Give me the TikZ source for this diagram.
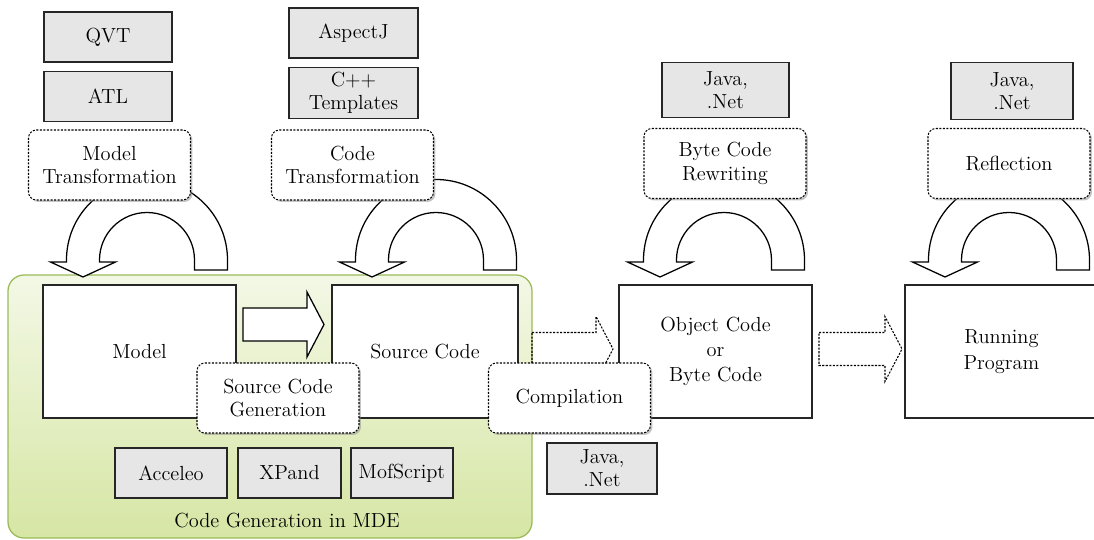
\documentclass[tikz,border=0pt]{standalone}
\usetikzlibrary{positioning,shadows}

\definecolor{toolgray}{HTML}{E6E6E6}
\definecolor{mdeline}{HTML}{9BBB59}
\definecolor{mdetop}{HTML}{F3F8E6}
\definecolor{mdebottom}{HTML}{D6E6A4}

\newdimen\pxu
\pxu=0.025cm

\tikzset{
  artefact/.style={draw=black!85, line width=0.9pt, fill=white, align=center,
    minimum width=193*\pxu, minimum height=133*\pxu},
  tool/.style={draw=black!85, line width=0.9pt, fill=toolgray, align=center,
    inner sep=0pt, minimum width=128*\pxu, minimum height=50*\pxu},
  process/.style={draw=black, line width=0.75pt, dash pattern=on 1.5pt off 1pt,
    fill=white, rounded corners=8*\pxu, align=center,
    minimum width=162*\pxu, minimum height=70*\pxu,
    drop shadow={opacity=0.45, shadow xshift=1.4pt, shadow yshift=-1.4pt}},
  mdebox/.style={draw=mdeline, line width=0.9pt, rounded corners=16*\pxu,
    top color=mdetop, bottom color=mdebottom},
  flow/.style={draw=black, line width=0.9pt, fill=white, line join=miter},
  flowdotted/.style={draw=black, line width=0.75pt, dash pattern=on 1.5pt off 1pt},
}

% block arrow: start x, tip x, centre y
\newcommand{\blockarrow}[4][flow]{%
  \draw[#1] (#2,{#4-16.5}) -- ({#3-17},{#4-16.5}) -- ({#3-17},{#4-32.5})
    -- (#3,#4) -- ({#3-17},{#4+32.5}) -- ({#3-17},{#4+16.5})
    -- (#2,{#4+16.5}) -- cycle;}

% u-turn arrow, argument is the x of its tip
\newcommand{\uturn}[1]{%
  \draw[flow] ({#1+144.5},270) -- ({#1+144.5},260)
    arc[start angle=0, end angle=180, radius=80.5*\pxu] -- ({#1-16.5},262)
    -- ({#1-32.5},262) -- (#1,277) -- ({#1+32.5},262) -- ({#1+16.5},262)
    -- ({#1+16.5},260) arc[start angle=180, end angle=0, radius=47.5*\pxu]
    -- ({#1+111.5},270) -- cycle;}

\begin{document}
\begin{tikzpicture}[x=0.025cm, y=-0.025cm, font=\fontsize{14.5}{16.5}\selectfont]
\useasboundingbox (0,0) rectangle (1094,540);

% code generation area
\node[mdebox, minimum width=524*\pxu, minimum height=263*\pxu] (mde) at (270,406.5) {};
\node (mdelabel) at (287,521) {Code Generation in MDE};

% artefacts
\node[artefact] (model) at (139.5,351.5) {Model};
\node[artefact, minimum width=186*\pxu] (src) at (425,351.5) {Source Code};
\node[artefact, font=\fontsize{14.5}{18}\selectfont] (obj) at (715.5,351.5) {Object Code\\or\\Byte Code};
\node[artefact, font=\fontsize{14.5}{18}\selectfont] (run) at (1001.5,351.5) {Running\\Program};

% arrows between artefacts
\blockarrow{243}{324}{324.5}
\blockarrow[flowdotted]{532}{613}{349}
\blockarrow[flowdotted]{819}{902}{349}

% transformations on the same level
\uturn{83}
\uturn{372}
\uturn{660}
\uturn{945}

% processes
\node[process] (mtrans) at (109.5,165) {Model\\Transformation};
\node[process] (ctrans) at (352.5,165) {Code\\Transformation};
\node[process] (bcrw) at (725,163.5) {Byte Code\\Rewriting};
\node[process] (refl) at (1009,163.5) {Reflection};
\node[process] (scgen) at (278,398) {Source Code\\Generation};
\node[process] (compil) at (569.5,398) {Compilation};

% tools
\node[tool] (qvt) at (108,37) {QVT};
\node[tool] (atl) [below=0.2cm of qvt] {ATL};
\node[tool, minimum width=129*\pxu] (aspectj) at (353.5,33) {AspectJ};
\node[tool, minimum width=129*\pxu, minimum height=51*\pxu] (cpp) [below=0.2cm of aspectj] {C++\\Templates};
\node[tool, minimum width=127*\pxu, minimum height=55*\pxu] (java1) at (725.5,90) {Java,\\.Net};
\node[tool, minimum width=122*\pxu, minimum height=57*\pxu] (java2) at (1012,91) {Java,\\.Net};
\node[tool, minimum width=110*\pxu, minimum height=51*\pxu] (java3) at (602,468.5) {Java,\\.Net};
\node[tool, minimum width=112*\pxu] (acceleo) at (171,473) {Acceleo};
\node[tool, minimum width=103*\pxu] (xpand) at (289.5,473) {XPand};
\node[tool, minimum width=102*\pxu] (mofscript) at (402,473) {MofScript};
\end{tikzpicture}
\end{document}
